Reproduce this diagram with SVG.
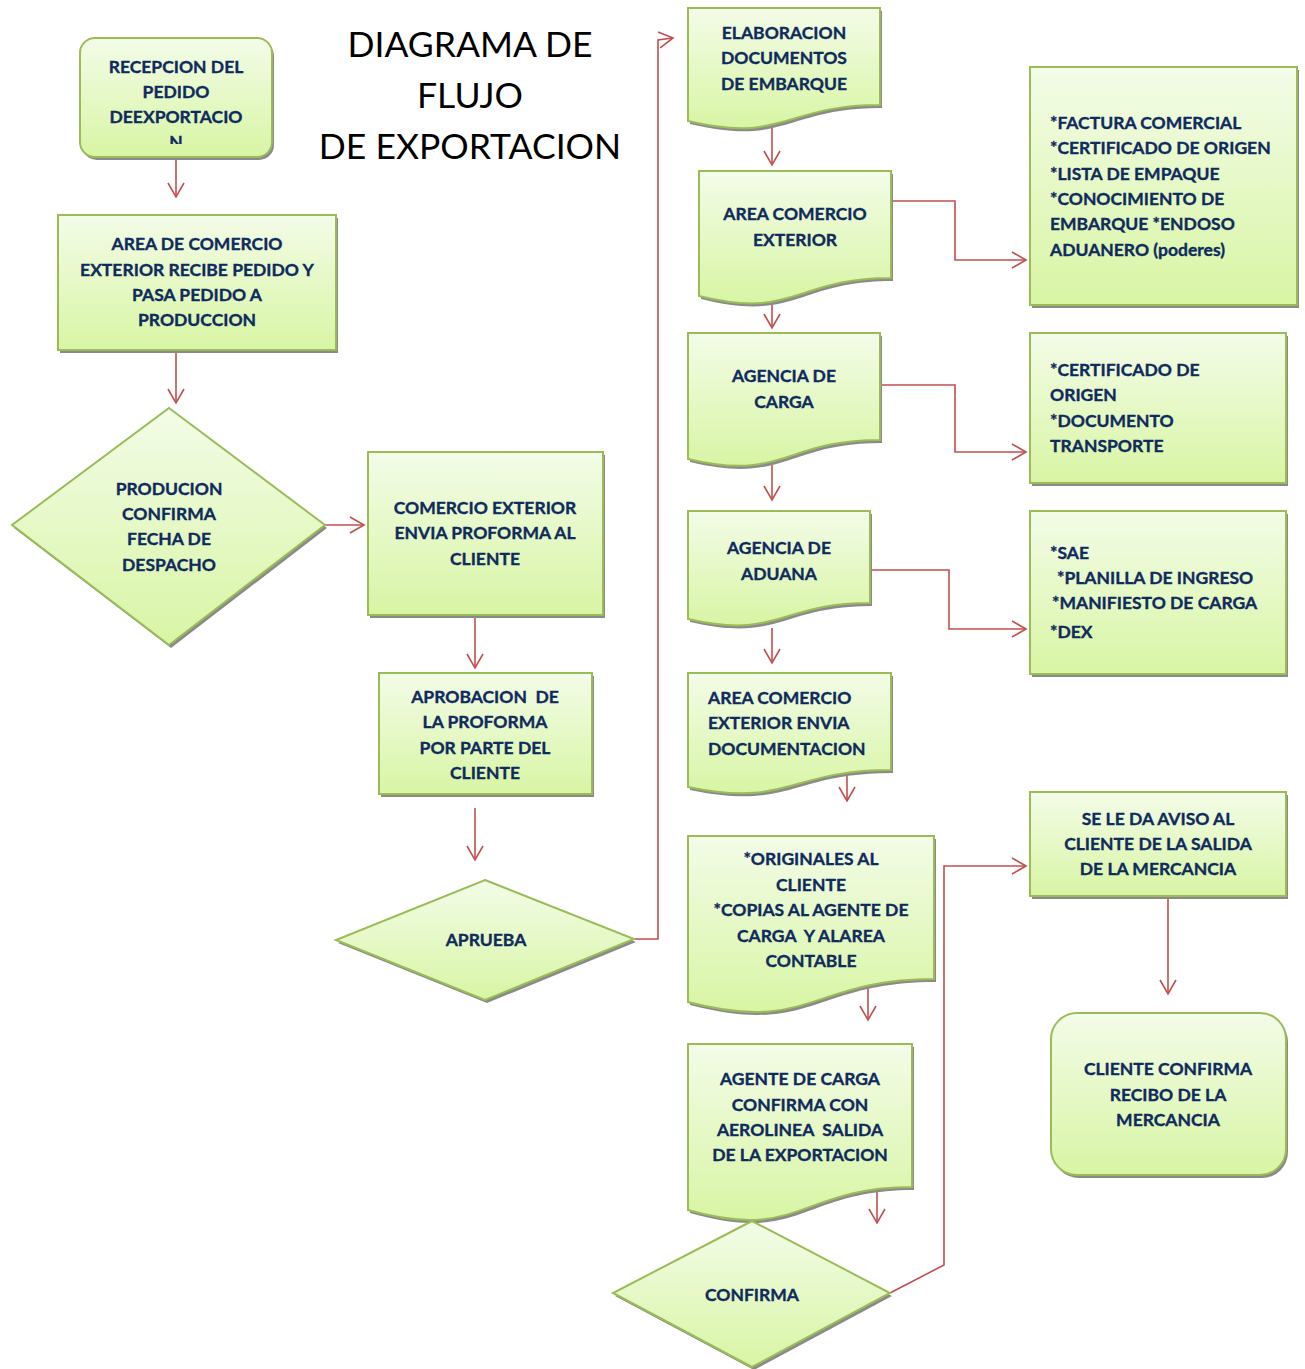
<svg xmlns="http://www.w3.org/2000/svg" xmlns:xlink="http://www.w3.org/1999/xlink" width="1305" height="1369" viewBox="0 0 1305 1369">
<style>
.n{fill:url(#g);stroke:#9bbb59;stroke-width:2}
.sh{fill:#8a8a8a;stroke:none}
.t{font-family:Lato,"Liberation Sans",sans-serif;font-weight:700;font-size:17.5px;fill:#0f2a5c;stroke:#0f2a5c;stroke-width:0.35;text-anchor:middle}
.l{text-anchor:start}
.title{font-family:Lato,"Liberation Sans",sans-serif;font-weight:400;font-size:35.5px;fill:#000;text-anchor:middle}
.c{fill:none;stroke:#c0504d;stroke-width:1.6}
</style>
<defs>
<linearGradient id="g" x1="0" y1="0" x2="0" y2="1">
<stop offset="0" stop-color="#f3fce8"/>
<stop offset="1" stop-color="#d8f5a4"/>
</linearGradient>
<marker id="a" markerUnits="userSpaceOnUse" markerWidth="18" markerHeight="20" refX="15" refY="9" orient="auto" viewBox="0 0 18 20">
<path d="M1,1 L15,9 L1,17" fill="none" stroke="#c0504d" stroke-width="1.6"/>
</marker>
<clipPath id="clip1"><rect x="80" y="38" width="192" height="106"/></clipPath>
</defs>
<rect width="1305" height="1369" fill="#fff"/>

<g id="title">
<text class="title" x="470" y="57">DIAGRAMA DE</text>
<text class="title" x="470" y="108">FLUJO</text>
<text class="title" x="470" y="159">DE EXPORTACION</text>
</g>

<g id="connectors">
<line class="c" x1="176" y1="158" x2="176" y2="197" marker-end="url(#a)"/>
<line class="c" x1="176" y1="351" x2="176" y2="403" marker-end="url(#a)"/>
<line class="c" x1="325" y1="525" x2="364" y2="525" marker-end="url(#a)"/>
<line class="c" x1="475" y1="616" x2="475" y2="668" marker-end="url(#a)"/>
<line class="c" x1="475" y1="808" x2="475" y2="860" marker-end="url(#a)"/>
<polyline class="c" points="634,939 658,939 658,40 673,38" marker-end="url(#a)"/>
<line class="c" x1="772" y1="128" x2="772" y2="165" marker-end="url(#a)"/>
<polyline class="c" points="880,201 955,201 955,260 1026,260" marker-end="url(#a)"/>
<line class="c" x1="772" y1="290" x2="772" y2="328" marker-end="url(#a)"/>
<line class="c" x1="772" y1="462" x2="772" y2="500" marker-end="url(#a)"/>
<polyline class="c" points="880,385 955,385 955,452 1026,452" marker-end="url(#a)"/>
<line class="c" x1="772" y1="628" x2="772" y2="663" marker-end="url(#a)"/>
<polyline class="c" points="870,570 949,570 949,629 1026,629" marker-end="url(#a)"/>
<line class="c" x1="847" y1="770" x2="847" y2="801" marker-end="url(#a)"/>
<line class="c" x1="868" y1="985" x2="868" y2="1020" marker-end="url(#a)"/>
<line class="c" x1="877" y1="1188" x2="877" y2="1223" marker-end="url(#a)"/>
<polyline class="c" points="890,1293 944,1265 944,866 1026,866" marker-end="url(#a)"/>
<line class="c" x1="1168" y1="897" x2="1168" y2="994" marker-end="url(#a)"/>
</g>

<g id="n1">
<rect class="sh" x="82" y="41" width="192" height="119" rx="15"/>
<rect class="n" x="80" y="38" width="192" height="119" rx="15"/>
<g clip-path="url(#clip1)">
<text class="t" x="176" y="73">RECEPCION DEL</text>
<text class="t" x="176" y="98">PEDIDO</text>
<text class="t" x="176" y="123">DEEXPORTACIO</text>
<text class="t" x="176" y="148">N</text>
</g>
</g>

<g id="n2">
<rect class="sh" x="60" y="218" width="278" height="135"/>
<rect class="n" x="58" y="215" width="278" height="135"/>
<text class="t" x="197" y="250">AREA DE COMERCIO</text>
<text class="t" x="197" y="276">EXTERIOR RECIBE PEDIDO Y</text>
<text class="t" x="197" y="301">PASA PEDIDO A</text>
<text class="t" x="197" y="326">PRODUCCION</text>
</g>

<g id="n3">
<polygon class="sh" points="171,411 327,528 171,648 14,528"/>
<polygon class="n" points="169,408 325,525 169,645 12,525"/>
<text class="t" x="169" y="495">PRODUCION</text>
<text class="t" x="169" y="520">CONFIRMA</text>
<text class="t" x="169" y="545">FECHA DE</text>
<text class="t" x="169" y="571">DESPACHO</text>
</g>

<g id="n4">
<rect class="sh" x="370" y="455" width="235" height="163"/>
<rect class="n" x="368" y="452" width="235" height="163"/>
<text class="t" x="485" y="514">COMERCIO EXTERIOR</text>
<text class="t" x="485" y="539">ENVIA PROFORMA AL</text>
<text class="t" x="485" y="565">CLIENTE</text>
</g>

<g id="n5">
<rect class="sh" x="381" y="676" width="213" height="121"/>
<rect class="n" x="379" y="673" width="213" height="121"/>
<text class="t" x="485" y="703" xml:space="preserve">APROBACION  DE</text>
<text class="t" x="485" y="728">LA PROFORMA</text>
<text class="t" x="485" y="754">POR PARTE DEL</text>
<text class="t" x="485" y="779">CLIENTE</text>
</g>

<g id="n6">
<polygon class="sh" points="487,883 636,942 487,1003 338,943"/>
<polygon class="n" points="485,880 634,939 485,1000 336,940"/>
<text class="t" x="486" y="946">APRUEBA</text>
</g>

<g id="n7">
<path class="sh" transform="translate(2,3)" d="M688,8 H880 V105 C784,105 784,144 688,121 Z"/>
<path class="n" d="M688,8 H880 V105 C784,105 784,144 688,121 Z"/>
<text class="t" x="784" y="39">ELABORACION</text>
<text class="t" x="784" y="64">DOCUMENTOS</text>
<text class="t" x="784" y="90">DE EMBARQUE</text>
</g>

<g id="n8">
<path class="sh" transform="translate(2,3)" d="M699,171 H891 V278 C795,278 795,320 699,296 Z"/>
<path class="n" d="M699,171 H891 V278 C795,278 795,320 699,296 Z"/>
<text class="t" x="795" y="220">AREA COMERCIO</text>
<text class="t" x="795" y="246">EXTERIOR</text>
</g>

<g id="n9">
<rect class="sh" x="1032" y="70" width="267" height="238"/>
<rect class="n" x="1030" y="67" width="267" height="238"/>
<text class="t l" x="1050" y="129">*FACTURA COMERCIAL</text>
<text class="t l" x="1050" y="154">*CERTIFICADO DE ORIGEN</text>
<text class="t l" x="1050" y="180">*LISTA DE EMPAQUE</text>
<text class="t l" x="1050" y="205">*CONOCIMIENTO DE</text>
<text class="t l" x="1050" y="230">EMBARQUE *ENDOSO</text>
<text class="t l" x="1050" y="256">ADUANERO (poderes)</text>
</g>

<g id="n10">
<path class="sh" transform="translate(2,3)" d="M688,333 H880 V440 C784,440 784,482 688,459 Z"/>
<path class="n" d="M688,333 H880 V440 C784,440 784,482 688,459 Z"/>
<text class="t" x="784" y="382">AGENCIA DE</text>
<text class="t" x="784" y="408">CARGA</text>
</g>

<g id="n11">
<rect class="sh" x="1032" y="336" width="256" height="150"/>
<rect class="n" x="1030" y="333" width="256" height="150"/>
<text class="t l" x="1050" y="376">*CERTIFICADO DE</text>
<text class="t l" x="1050" y="401">ORIGEN</text>
<text class="t l" x="1050" y="427">*DOCUMENTO</text>
<text class="t l" x="1050" y="452">TRANSPORTE</text>
</g>

<g id="n12">
<path class="sh" transform="translate(2,3)" d="M688,511 H870 V603 C779,603 779,640 688,619 Z"/>
<path class="n" d="M688,511 H870 V603 C779,603 779,640 688,619 Z"/>
<text class="t" x="779" y="554">AGENCIA DE</text>
<text class="t" x="779" y="580">ADUANA</text>
</g>

<g id="n13">
<rect class="sh" x="1032" y="514" width="256" height="163"/>
<rect class="n" x="1030" y="511" width="256" height="163"/>
<text class="t l" x="1050" y="559">*SAE</text>
<text class="t l" x="1057" y="584">*PLANILLA DE INGRESO</text>
<text class="t l" x="1052" y="609">*MANIFIESTO DE CARGA</text>
<text class="t l" x="1050" y="638">*DEX</text>
</g>

<g id="n14">
<path class="sh" transform="translate(2,3)" d="M688,673 H891 V770 C789,770 789,808 688,787 Z"/>
<path class="n" d="M688,673 H891 V770 C789,770 789,808 688,787 Z"/>
<text class="t l" x="708" y="704">AREA COMERCIO</text>
<text class="t l" x="708" y="729">EXTERIOR ENVIA</text>
<text class="t l" x="708" y="755">DOCUMENTACION</text>
</g>

<g id="n15">
<path class="sh" transform="translate(2,3)" d="M688,836 H934 V979 C811,979 811,1034 688,1002 Z"/>
<path class="n" d="M688,836 H934 V979 C811,979 811,1034 688,1002 Z"/>
<text class="t" x="811" y="865">*ORIGINALES AL</text>
<text class="t" x="811" y="891">CLIENTE</text>
<text class="t" x="811" y="916">*COPIAS AL AGENTE DE</text>
<text class="t" x="811" y="942" xml:space="preserve">CARGA  Y ALAREA</text>
<text class="t" x="811" y="967">CONTABLE</text>
</g>

<g id="n16">
<path class="sh" transform="translate(2,3)" d="M688,1044 H912 V1187 C800,1187 800,1242 688,1210 Z"/>
<path class="n" d="M688,1044 H912 V1187 C800,1187 800,1242 688,1210 Z"/>
<text class="t" x="800" y="1085">AGENTE DE CARGA</text>
<text class="t" x="800" y="1111">CONFIRMA CON</text>
<text class="t" x="800" y="1136" xml:space="preserve">AEROLINEA  SALIDA</text>
<text class="t" x="800" y="1161">DE LA EXPORTACION</text>
</g>

<g id="n17">
<polygon class="sh" points="754,1224 892,1296 754,1370 615,1296"/>
<polygon class="n" points="752,1221 890,1293 752,1367 613,1293"/>
<text class="t" x="752" y="1301">CONFIRMA</text>
</g>

<g id="n18">
<rect class="sh" x="1032" y="795" width="256" height="104"/>
<rect class="n" x="1030" y="792" width="256" height="104"/>
<text class="t" x="1158" y="825">SE LE DA AVISO AL</text>
<text class="t" x="1158" y="850">CLIENTE DE LA SALIDA</text>
<text class="t" x="1158" y="875">DE LA MERCANCIA</text>
</g>

<g id="n19">
<rect class="sh" x="1053" y="1016" width="235" height="162" rx="26"/>
<rect class="n" x="1051" y="1013" width="235" height="162" rx="26"/>
<text class="t" x="1168" y="1075">CLIENTE CONFIRMA</text>
<text class="t" x="1168" y="1101">RECIBO DE LA</text>
<text class="t" x="1168" y="1126">MERCANCIA</text>
</g>
</svg>
